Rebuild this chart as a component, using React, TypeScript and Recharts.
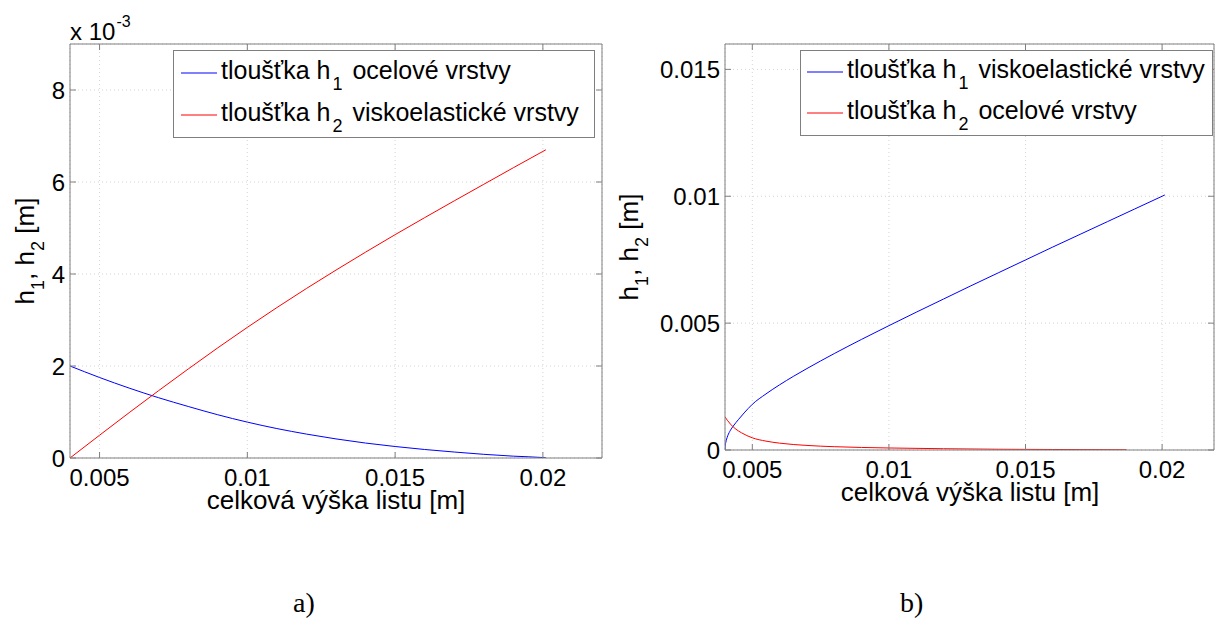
import React from 'react';
import { LineChart, Line, XAxis, YAxis, CartesianGrid } from 'recharts';

const FONT = '"Liberation Sans", Arial, Helvetica, sans-serif';
const SERIF = '"Liberation Serif", "Times New Roman", serif';
const GRAY = '#7f7f7f';
const GRID = '#d4d4d4';
const BLUE = '#0000ff';
const RED = '#ff0000';
const TL = 6;

// ---------- Chart a) (values of h in units of 10^-3 m) ----------
const xTicksA = [0.005, 0.01, 0.015, 0.02];
const yTicksA = [0, 2, 4, 6, 8];
const xA = [0.004, 0.005, 0.006, 0.007, 0.008, 0.009, 0.010, 0.011, 0.012, 0.013, 0.014, 0.015, 0.016, 0.017, 0.018, 0.019, 0.020, 0.0201];
const h1A = [2.0, 1.75, 1.52, 1.31, 1.12, 0.94, 0.78, 0.64, 0.52, 0.415, 0.325, 0.25, 0.185, 0.13, 0.08, 0.04, 0.01, 0.005];
const h2A = [0, 0.495, 0.985, 1.465, 1.935, 2.395, 2.84, 3.27, 3.685, 4.085, 4.475, 4.855, 5.225, 5.59, 5.95, 6.31, 6.665, 6.70];

// ---------- Chart b) ----------
const xTicksB = [0.005, 0.01, 0.015, 0.02];
const yTicksB = [0, 0.005, 0.01, 0.015];
const xB1 = [0.004, 0.00401, 0.00403, 0.00406, 0.0041, 0.0042, 0.0043, 0.0045, 0.0047, 0.005, 0.0055, 0.006, 0.0065, 0.007, 0.008, 0.009, 0.010, 0.011, 0.012, 0.013, 0.014, 0.015, 0.016, 0.017, 0.018, 0.019, 0.020, 0.0201];
const h1B = [0, 0.00018, 0.0003, 0.00043, 0.00056, 0.00078, 0.00094, 0.00121, 0.00146, 0.0018, 0.00221, 0.00257, 0.0029, 0.00321, 0.0038, 0.00436, 0.0049, 0.00543, 0.00595, 0.00647, 0.00698, 0.00749, 0.0080, 0.0085, 0.0090, 0.0095, 0.0100, 0.01005];
const xB2 = [0.004, 0.0042, 0.0044, 0.0046, 0.005, 0.0055, 0.006, 0.007, 0.008, 0.009, 0.010, 0.012, 0.014, 0.016, 0.0187];
const h2B = [0.0013, 0.00102, 0.00082, 0.00068, 0.00048, 0.00035, 0.00027, 0.00018, 0.00013, 0.0001, 0.00008, 0.00005, 0.00003, 0.00002, 0.00001];

const toRows = (xs: number[], ys: number[]) => xs.map((x, i) => ({ x, y: ys[i] }));

const fmt = (v: number) => String(v);

const LeftTick = (p: any) => (
  <g>
    <line x1={p.x} y1={p.y} x2={p.x + TL} y2={p.y} stroke={GRAY} />
    <text x={p.x - 5} y={p.y + 9} textAnchor="end" fontSize={24} fontFamily={FONT} fill="#000">
      {fmt(p.payload.value)}
    </text>
  </g>
);
const RightTick = (p: any) => (
  <line x1={p.x - TL} y1={p.y} x2={p.x} y2={p.y} stroke={GRAY} />
);
const BottomTick = (p: any) => (
  <g>
    <line x1={p.x} y1={p.y - TL} x2={p.x} y2={p.y} stroke={GRAY} />
    <text x={p.x} y={p.y + 28} textAnchor="middle" fontSize={24} fontFamily={FONT} fill="#000">
      {fmt(p.payload.value)}
    </text>
  </g>
);
const TopTick = (p: any) => (
  <line x1={p.x} y1={p.y} x2={p.x} y2={p.y + TL} stroke={GRAY} />
);

type PanelProps = {
  width: number;
  height: number;
  margin: { top: number; right: number; bottom: number; left: number };
  yWidth: number;
  xDomain: [number, number];
  yDomain: [number, number];
  xTicks: number[];
  yTicks: number[];
  blue: { x: number; y: number }[];
  red: { x: number; y: number }[];
};

const Panel = (p: PanelProps) => (
  <LineChart width={p.width} height={p.height} margin={p.margin}>
    <CartesianGrid stroke={GRID} strokeDasharray="1 3" />
    <XAxis
      type="number"
      dataKey="x"
      domain={p.xDomain}
      ticks={p.xTicks}
      allowDataOverflow
      height={40}
      tickSize={0}
      tickMargin={0}
      tickLine={false}
      axisLine={{ stroke: GRAY }}
      tick={BottomTick}
      interval={0}
    />
    <XAxis
      xAxisId="t"
      orientation="top"
      type="number"
      dataKey="x"
      domain={p.xDomain}
      ticks={p.xTicks}
      allowDataOverflow
      height={4}
      tickSize={0}
      tickMargin={0}
      tickLine={false}
      axisLine={{ stroke: GRAY }}
      tick={TopTick}
      interval={0}
    />
    <YAxis
      type="number"
      domain={p.yDomain}
      ticks={p.yTicks}
      allowDataOverflow
      width={p.yWidth}
      tickSize={0}
      tickMargin={0}
      tickLine={false}
      axisLine={{ stroke: GRAY }}
      tick={LeftTick}
      interval={0}
    />
    <YAxis
      yAxisId="r"
      orientation="right"
      type="number"
      domain={p.yDomain}
      ticks={p.yTicks}
      allowDataOverflow
      width={4}
      tickSize={0}
      tickMargin={0}
      tickLine={false}
      axisLine={{ stroke: GRAY }}
      tick={RightTick}
      interval={0}
    />
    <Line data={p.blue} dataKey="y" type="monotone" stroke={BLUE} strokeWidth={1} dot={false} isAnimationActive={false} />
    <Line data={p.red} dataKey="y" type="monotone" stroke={RED} strokeWidth={1} dot={false} isAnimationActive={false} />
  </LineChart>
);

const Sub = ({ n }: { n: string }) => (
  <tspan fontSize={18} dy={11} dx={2}>{n}</tspan>
);

const LegendRow = ({ x, y, color, n, rest }: { x: number; y: number; color: string; n: string; rest: string }) => (
  <g>
    <line x1={x} y1={y} x2={x + 36} y2={y} stroke={color} strokeWidth={1} />
    <text x={x + 40} y={y + 5.5} fontSize={25} fontFamily={FONT} fill="#000">
      tloušťka h<Sub n={n} />
      <tspan dy={-11} dx={3}>{' ' + rest}</tspan>
    </text>
  </g>
);

const YLabel = ({ cx, cy }: { cx: number; cy: number }) => (
  <text
    x={cx}
    y={cy}
    transform={`rotate(-90 ${cx} ${cy})`}
    textAnchor="middle"
    fontSize={26}
    fontFamily={FONT}
    fill="#000"
  >
    h<tspan fontSize={18} dy={10}>1</tspan>
    <tspan dy={-10}>, h</tspan>
    <tspan fontSize={18} dy={10}>2</tspan>
    <tspan dy={-10}> [m]</tspan>
  </text>
);

export default function App() {
  return (
    <div
      style={{
        position: 'absolute',
        left: 0,
        top: 0,
        width: 1216,
        height: 619,
        overflow: 'hidden',
        background: '#fff',
      }}
    >
      <div style={{ position: 'absolute', left: 0, top: 0 }}>
        <Panel
          width={620}
          height={540}
          margin={{ top: 40, right: 14, bottom: 42, left: 0 }}
          yWidth={70}
          xDomain={[0.004, 0.022]}
          yDomain={[0, 9]}
          xTicks={xTicksA}
          yTicks={yTicksA}
          blue={toRows(xA, h1A)}
          red={toRows(xA, h2A)}
        />
      </div>
      <div style={{ position: 'absolute', left: 640, top: 0 }}>
        <Panel
          width={580}
          height={540}
          margin={{ top: 40, right: 2, bottom: 50, left: 0 }}
          yWidth={85}
          xDomain={[0.004, 0.0219]}
          yDomain={[0, 0.016]}
          xTicks={xTicksB}
          yTicks={yTicksB}
          blue={toRows(xB1, h1B)}
          red={toRows(xB2, h2B)}
        />
      </div>
      <svg
        width={1216}
        height={619}
        style={{ position: 'absolute', left: 0, top: 0, pointerEvents: 'none' }}
      >
        {/* exponent */}
        <text x={70} y={40} fontSize={24} fontFamily={FONT} fill="#000">
          x 10<tspan fontSize={16} dy={-13} dx={1}>-3</tspan>
        </text>

        {/* legend a */}
        <rect x={173.5} y={50.5} width={421} height={87} fill="#fff" stroke={GRAY} />
        <LegendRow x={181} y={73} color={BLUE} n="1" rest="ocelové vrstvy" />
        <LegendRow x={181} y={115} color={RED} n="2" rest="viskoelastické vrstvy" />

        {/* legend b */}
        <rect x={800.5} y={50.5} width={412} height={85} fill="#fff" stroke={GRAY} />
        <LegendRow x={807} y={72} color={BLUE} n="1" rest="viskoelastické vrstvy" />
        <LegendRow x={807} y={113} color={RED} n="2" rest="ocelové vrstvy" />

        {/* axis labels */}
        <text x={336} y={509} textAnchor="middle" fontSize={26} fontFamily={FONT} fill="#000">
          celková výška listu [m]
        </text>
        <text x={970} y={501} textAnchor="middle" fontSize={26} fontFamily={FONT} fill="#000">
          celková výška listu [m]
        </text>
        <YLabel cx={34} cy={251} />
        <YLabel cx={638} cy={247} />

        {/* panel captions */}
        <text x={293} y={612} fontSize={28} fontFamily={SERIF} fill="#000">a)</text>
        <text x={900} y={612} fontSize={28} fontFamily={SERIF} fill="#000">b)</text>
      </svg>
    </div>
  );
}
